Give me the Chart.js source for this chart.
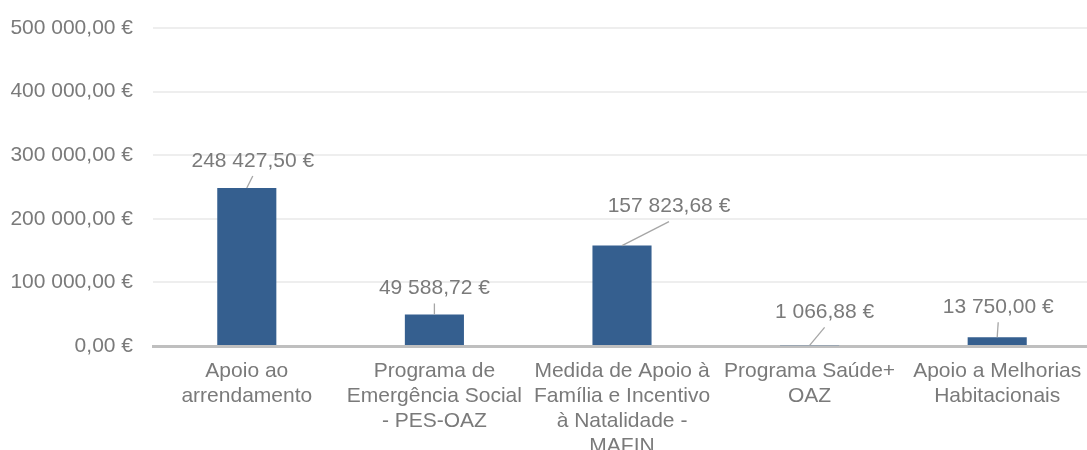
<!DOCTYPE html>
<html>
<head>
<meta charset="utf-8">
<script src="https://cdn.jsdelivr.net/npm/chart.js@4/dist/chart.umd.min.js"></script>
<style>
  html, body { margin: 0; padding: 0; background: #fff; overflow: hidden; }
  #wrap { position: relative; width: 1091px; height: 460px; }
</style>
</head>
<body>
<div id="wrap"><canvas id="apoiosChart"></canvas></div>
<script>
// categories (multi-line labels as in the original)
var categories = [
    ['Apoio ao', 'arrendamento'],
    ['Programa de', 'Emergência Social', '- PES-OAZ'],
    ['Medida de Apoio à', 'Família e Incentivo', 'à Natalidade -', 'MAFIN'],
    ['Programa Saúde+', 'OAZ'],
    ['Apoio a Melhorias', 'Habitacionais']
];
var values = [248427.50, 49588.72, 157823.68, 1066.88, 13750.00];
var yTicks = [0, 100000, 200000, 300000, 400000, 500000];

// where each value label sits relative to the top of its bar (px)
var labelOffsets = [[6, -27], [0, -26], [47, -39], [15, -33], [1, -30]];

var textColor = '#7a7a7a';
var barColor = '#355f8f';
var fontFamily = '"Liberation Sans", Arial, sans-serif';

function formatEuro(v) {
    var parts = v.toFixed(2).split('.');
    var intPart = parts[0].replace(/\B(?=(\d{3})+(?!\d))/g, ' ');
    return intPart + ',' + parts[1] + ' €';
}

var leaderLabels = {
    id: 'leaderLabels',
    afterDatasetsDraw: function (chart) {
        var ctx = chart.ctx;
        var meta = chart.getDatasetMeta(0);
        ctx.save();
        ctx.font = '21px ' + fontFamily;
        ctx.textAlign = 'center';
        ctx.textBaseline = 'middle';
        meta.data.forEach(function (bar, i) {
            var off = labelOffsets[i];
            var lx = bar.x + off[0];
            var ly = bar.y + off[1];
            // leader line
            ctx.strokeStyle = '#a6a6a6';
            ctx.lineWidth = 1.3;
            ctx.beginPath();
            ctx.moveTo(bar.x, bar.y);
            ctx.lineTo(lx, ly + 15);
            ctx.stroke();
            ctx.fillStyle = textColor;
            ctx.fillText(formatEuro(values[i]), lx, ly);
        });
        ctx.restore();
    }
};

var ctx = document.getElementById('apoiosChart').getContext('2d');
var chart = new Chart(ctx, {
    type: 'bar',
    data: {
        labels: categories,
        datasets: [{
            data: values,
            backgroundColor: barColor,
            borderWidth: 0,
            barPercentage: 0.315,
            categoryPercentage: 1
        }]
    },
    options: {
        responsive: true,
        maintainAspectRatio: false,
        animation: false,
        layout: { padding: { top: 28, right: 0, bottom: 0, left: 0 } },
        plugins: {
            legend: { display: false },
            tooltip: { enabled: false }
        },
        scales: {
            x: {
                grid: { display: false, drawTicks: false },
                border: { display: true, color: '#bfbfbf', width: 3 },
                ticks: {
                    color: textColor,
                    font: { family: fontFamily, size: 21, lineHeight: 1.19 },
                    padding: 12.5,
                    autoSkip: false,
                    maxRotation: 0,
                    minRotation: 0
                },
                afterFit: function (scale) {
                    scale.height = 114;
                    scale.paddingLeft = 0;
                    scale.paddingRight = 0;
                }
            },
            y: {
                min: 0,
                max: 500000,
                afterBuildTicks: function (scale) {
                    scale.ticks = yTicks.map(function (v) { return { value: v }; });
                },
                grid: { color: '#eeeeee', lineWidth: 2, drawTicks: false },
                border: { display: false },
                ticks: {
                    color: textColor,
                    font: { family: fontFamily, size: 21 },
                    padding: 20,
                    callback: function (v) { return formatEuro(v); }
                },
                afterFit: function (scale) {
                    scale.width = 153;
                    scale.paddingTop = 0;
                    scale.paddingBottom = 0;
                }
            }
        }
    },
    plugins: [leaderLabels]
});
</script>
</body>
</html>
